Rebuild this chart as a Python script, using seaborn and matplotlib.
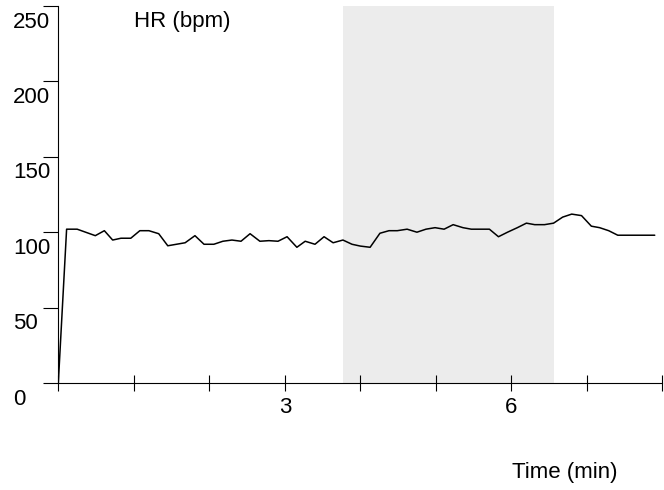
import numpy as np
import pandas as pd
import matplotlib
matplotlib.use("Agg")
import matplotlib.pyplot as plt
import matplotlib.transforms as mtransforms
import seaborn as sns

# =========================
# DATA
# =========================

time_min = [0.00, 0.11, 0.25, 0.49, 0.61, 0.72, 0.83, 0.96, 1.08, 1.20,
            1.33, 1.45, 1.68, 1.81, 1.93, 2.06, 2.18, 2.30, 2.42, 2.54,
            2.67, 2.79, 2.91, 3.03, 3.16, 3.27, 3.40, 3.52, 3.64, 3.77,
            3.89, 4.00, 4.13, 4.26, 4.38, 4.49, 4.62, 4.75, 4.87, 4.99,
            5.11, 5.23, 5.36, 5.47, 5.59, 5.71, 5.83, 5.95, 6.08, 6.20,
            6.31, 6.44, 6.56, 6.68, 6.80, 6.93, 7.06, 7.17, 7.29, 7.41,
            7.90]
hr_bpm = [0, 102, 102, 97.7, 101, 94.8, 96, 96, 101, 101,
          99, 91, 93, 97.7, 92, 92, 94, 94.8, 94, 99,
          94, 94.4, 94, 97, 90, 94, 92, 97, 93, 94.8,
          92, 90.8, 90, 99.3, 101, 101, 102, 100, 102, 103,
          102, 105, 103, 102, 102, 102, 97, 100, 103, 106,
          105, 105, 106, 110, 112, 111, 104, 103, 101, 98,
          98]

shade_start = 3.77
shade_end = 6.56

y_ticks = [0, 50, 100, 150, 200, 250]
x_ticks = [0, 1, 2, 3, 4, 5, 6, 7, 8]
x_tick_labels = ["", "", "", "3", "", "", "6", "", ""]

df = pd.DataFrame({"time": time_min, "hr": hr_bpm})

# =========================
# STYLE
# =========================

sns.set_theme(style="ticks")
plt.rcParams["font.family"] = ["Liberation Sans", "DejaVu Sans"]
plt.rcParams["font.size"] = 16
plt.rcParams["text.color"] = "black"
plt.rcParams["xtick.color"] = "black"
plt.rcParams["ytick.color"] = "black"
plt.rcParams["xtick.labelcolor"] = "black"

fig = plt.figure(figsize=(6.64, 4.9), dpi=100)
ax = fig.add_axes([58.3 / 664, 1 - 383 / 490, 604 / 664, 377 / 490])

ax.axvspan(shade_start, shade_end, color="#ececec", lw=0, zorder=0)
sns.lineplot(data=df, x="time", y="hr", color="black", linewidth=1.1, ax=ax)

ax.set_xlim(0, 8)
ax.set_ylim(0, 250)
ax.set_xlabel("")
ax.set_ylabel("")

sns.despine(ax=ax)
for side in ["left", "bottom"]:
    ax.spines[side].set_linewidth(0.8)
    ax.spines[side].set_color("black")

# x ticks cross the axis, only 3 and 6 labelled
ax.set_xticks(x_ticks)
ax.set_xticklabels(x_tick_labels, fontsize=16, color="black")
ax.tick_params(axis="x", direction="inout", length=11.5, width=0.8,
               color="black", pad=4.3)

# y ticks point outward, labels sit below each tick
ax.set_yticks(y_ticks)
ax.set_yticklabels([])
ax.tick_params(axis="y", direction="out", length=11, width=0.8, color="black")

ylab_trans = mtransforms.offset_copy(
    mtransforms.blended_transform_factory(fig.transFigure, ax.transData),
    fig=fig, x=0, y=-21.5, units="dots")
for v in y_ticks:
    ax.text(13 / 664, v, str(v), transform=ylab_trans, ha="left",
            va="baseline", fontsize=16, color="black", clip_on=False)

fig.text(134 / 664, 1 - 27 / 490, "HR (bpm)", ha="left", va="baseline",
         fontsize=16, color="black")
fig.text(512 / 664, 1 - 478 / 490, "Time (min)", ha="left", va="baseline",
         fontsize=16, color="black")

plt.savefig("out.png", dpi=100)
plt.close()
